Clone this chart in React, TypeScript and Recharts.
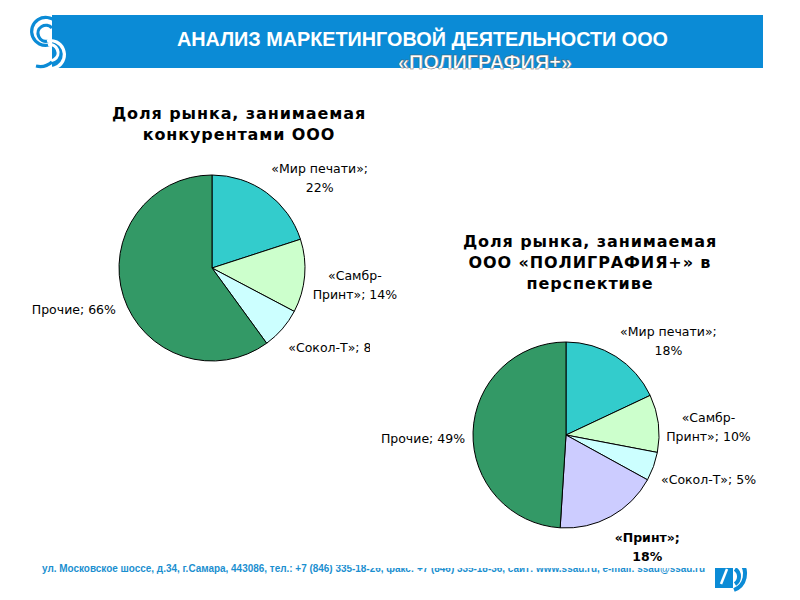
import { PieChart, Pie, Cell } from "recharts";

// market shares of competitors today
const nowNames = ["«Мир печати»", "«Самбр-Принт»", "«Сокол-Т»", "Прочие"];
const nowShares = [22, 14, 8, 66];
const nowColors = ["#33CCCC", "#CCFFCC", "#CCFFFF", "#339966"];

// expected shares incl. the company itself
const futureNames = ["«Мир печати»", "«Самбр-Принт»", "«Сокол-Т»", "«Принт»", "Прочие"];
const futureShares = [18, 10, 5, 18, 49];
const futureColors = ["#33CCCC", "#CCFFCC", "#CCFFFF", "#CCCCFF", "#339966"];
const boldName = "«Принт»";

const nowTitle = ["Доля рынка, занимаемая", "конкурентами ООО"];
const futureTitle = ["Доля рынка, занимаемая", "ООО «ПОЛИГРАФИЯ+» в", "перспективе"];

const BLUE = "#0b8bd6";
const LABEL_FONT = "DejaVu Sans, Verdana, sans-serif";
const NARROW = "Liberation Sans Narrow, Liberation Sans, Arial, sans-serif";
const LINE = 19;

let ctx: CanvasRenderingContext2D | null = null;
const textWidth = (s: string, bold: boolean) => {
  if (!ctx) ctx = document.createElement("canvas").getContext("2d");
  if (!ctx) return s.length * 7.4;
  ctx.font = `${bold ? "bold " : ""}12.5px ${LABEL_FONT}`;
  return ctx.measureText(s).width;
};

// greedy wrap at spaces / hyphens
const wrap = (s: string, maxChars: number) => {
  const parts = s.split(/(?<=[\s-])/);
  const lines: string[] = [];
  let cur = "";
  parts.forEach((p) => {
    if (cur && (cur + p).trim().length > maxChars) {
      lines.push(cur.trim());
      cur = p;
    } else cur += p;
  });
  if (cur) lines.push(cur.trim());
  return lines;
};

const makeLabel = (props: any) => {
  const { cx, cy, midAngle, outerRadius, value } = props;
  const name = props.name ?? props.payload?.name;
  const bold = name === boldName;
  const rad = (midAngle * Math.PI) / 180;
  const cos = Math.cos(rad);
  const sin = Math.sin(rad);
  const r = outerRadius + 8;
  const px = cx + r * cos;
  const py = cy - r * sin;
  const lines = wrap(`${name}; ${value}%`, bold ? 10 : 13);
  const w = Math.max(...lines.map((l) => textWidth(l, bold)));
  const h = lines.length * LINE;
  const x = px + (cos >= 0 ? w / 2 : -w / 2);
  const yc = py - (sin * h) / 2;
  const y0 = yc - h / 2 + 21;
  return (
    <text
      x={x}
      y={y0}
      textAnchor="middle"
      fontFamily={LABEL_FONT}
      fontSize={12.5}
      fontWeight={bold ? "bold" : "normal"}
      fill="#000"
    >
      {lines.map((l, i) => (
        <tspan key={i} x={x} dy={i === 0 ? 0 : LINE}>
          {l}
        </tspan>
      ))}
    </text>
  );
};

const Title = ({ lines, x, y }: { lines: string[]; x: number; y: number }) => (
  <text
    x={x}
    y={y}
    textAnchor="middle"
    fontFamily={LABEL_FONT}
    fontWeight="bold"
    fontSize={16}
    letterSpacing={0.9}
    fill="#000"
  >
    {lines.map((l, i) => (
      <tspan key={i} x={x} dy={i === 0 ? 0 : 21}>
        {l}
      </tspan>
    ))}
  </text>
);

const nowData = nowNames.map((name, i) => ({ name, value: nowShares[i] }));
const futureData = futureNames.map((name, i) => ({ name, value: futureShares[i] }));

export default function App() {
  return (
    <div style={{ position: "absolute", left: 0, top: 0, width: 800, height: 600, background: "#fff", overflow: "hidden" }}>
      <svg width={800} height={600} style={{ position: "absolute", left: 0, top: 0 }}>
        {/* header bar */}
        <rect x={52} y={15} width={711} height={53} fill={BLUE} />
        {/* logo */}
        <g fill="none" strokeWidth={3.2}>
          <path d="M56 22 A14 14 0 1 0 49 45" stroke={BLUE} />
          <path d="M52 28 A8 8 0 1 0 48 41" stroke={BLUE} />
          <path d="M40 64 A14 14 0 1 0 47 41" stroke="#fff" />
          <path d="M44 58 A8 8 0 1 0 48 45" stroke="#fff" />
          <path d="M36 66 A18 18 0 0 0 52 62" stroke={BLUE} />
        </g>
        <text x={177} y={46} fontFamily={NARROW} fontWeight="bold" fontSize={20} fill="#fff" textLength={491} lengthAdjust="spacingAndGlyphs">
          АНАЛИЗ МАРКЕТИНГОВОЙ ДЕЯТЕЛЬНОСТИ ООО
        </text>
        <text x={398} y={69} fontFamily={NARROW} fontWeight="bold" fontSize={20} fill="#fff" stroke="#555" strokeWidth={0.4} textLength={174} lengthAdjust="spacingAndGlyphs">
          «ПОЛИГРАФИЯ+»
        </text>
        <Title lines={nowTitle} x={239} y={119} />
        <Title lines={futureTitle} x={590} y={247} />
        {/* footer */}
        <text x={42} y={572} fontFamily={NARROW} fontWeight="bold" fontSize={10.5} fill="#1b8fd0" textLength={663} lengthAdjust="spacingAndGlyphs">
          ул. Московское шоссе, д.34, г.Самара, 443086, тел.: +7 (846) 335-18-26, факс: +7 (846) 335-18-36, сайт: www.ssau.ru, e-mail: ssau@ssau.ru
        </text>
        <rect x={715} y={565} width={18} height={23} fill={BLUE} />
        <path d="M727 569 L721 584" stroke="#fff" strokeWidth={2.5} />
        <g fill="none" stroke={BLUE} strokeWidth={4}>
          <path d="M735 569 A9 9 0 0 1 735 584" />
          <path d="M740 562 A17 17 0 0 1 734 590" />
        </g>
      </svg>

      <div style={{ position: "absolute", left: 0, top: 95 }}>
        <PieChart width={400} height={275} margin={{ top: 0, right: 0, bottom: 0, left: 0 }}>
          <Pie
            data={nowData}
            dataKey="value"
            nameKey="name"
            cx={212}
            cy={173}
            outerRadius={93}
            startAngle={90}
            endAngle={-270}
            stroke="#000"
            strokeWidth={1}
            label={makeLabel}
            labelLine={false}
            isAnimationActive={false}
          >
            {nowData.map((d, i) => (
              <Cell key={d.name} fill={nowColors[i]} />
            ))}
          </Pie>
        </PieChart>
      </div>

      <div style={{ position: "absolute", left: 370, top: 300, background: "#fff" }}>
        <PieChart width={400} height={268} margin={{ top: 0, right: 0, bottom: 0, left: 0 }}>
          <Pie
            data={futureData}
            dataKey="value"
            nameKey="name"
            cx={196}
            cy={135}
            outerRadius={93}
            startAngle={90}
            endAngle={-270}
            stroke="#000"
            strokeWidth={1}
            label={makeLabel}
            labelLine={false}
            isAnimationActive={false}
          >
            {futureData.map((d, i) => (
              <Cell key={d.name} fill={futureColors[i]} />
            ))}
          </Pie>
        </PieChart>
      </div>

      {/* white edge of the chart box hiding part of the footer */}
      <div style={{ position: "absolute", left: 327, top: 550, width: 258, height: 15, background: "#fff" }} />
    </div>
  );
}
